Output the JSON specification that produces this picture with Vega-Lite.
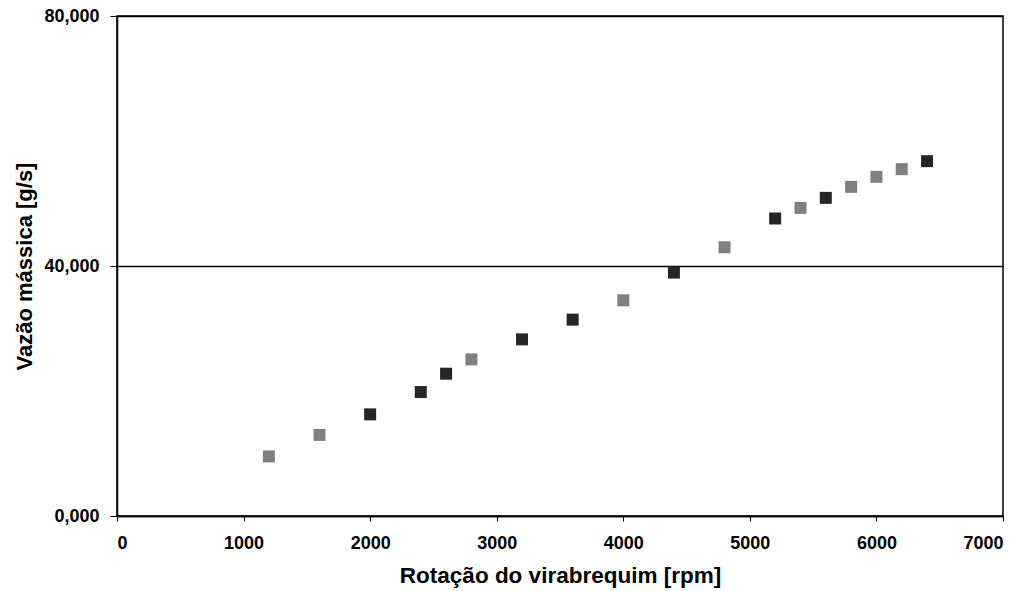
{
  "$schema": "https://vega.github.io/schema/vega-lite/v6.json",
  "autosize": {"type": "none"},
  "width": 886,
  "height": 500,
  "padding": {"left": 117, "top": 16, "right": 24, "bottom": 75},
  "background": "white",
  "config": {
    "view": {"stroke": "black", "strokeWidth": 1.5},
    "font": "Liberation Sans"
  },
  "data": {
    "values": [
      {"rpm": 1200, "vazao": 9.53, "serie": "B"},
      {"rpm": 1600, "vazao": 12.97, "serie": "B"},
      {"rpm": 2000, "vazao": 16.26, "serie": "A"},
      {"rpm": 2400, "vazao": 19.83, "serie": "A"},
      {"rpm": 2600, "vazao": 22.77, "serie": "A"},
      {"rpm": 2800, "vazao": 25.06, "serie": "B"},
      {"rpm": 3200, "vazao": 28.26, "serie": "A"},
      {"rpm": 3600, "vazao": 31.42, "serie": "A"},
      {"rpm": 4000, "vazao": 34.51, "serie": "B"},
      {"rpm": 4400, "vazao": 38.95, "serie": "A"},
      {"rpm": 4800, "vazao": 43.0, "serie": "B"},
      {"rpm": 5200, "vazao": 47.6, "serie": "A"},
      {"rpm": 5400, "vazao": 49.3, "serie": "B"},
      {"rpm": 5600, "vazao": 50.9, "serie": "A"},
      {"rpm": 5800, "vazao": 52.66, "serie": "B"},
      {"rpm": 6000, "vazao": 54.26, "serie": "B"},
      {"rpm": 6200, "vazao": 55.49, "serie": "B"},
      {"rpm": 6400, "vazao": 56.77, "serie": "A"}
    ]
  },
  "mark": {"type": "point", "shape": "square", "filled": true, "size": 144, "opacity": 1},
  "encoding": {
    "x": {
      "field": "rpm",
      "type": "quantitative",
      "scale": {"domain": [0, 7000], "nice": false},
      "axis": {
        "title": "Rotação do virabrequim [rpm]",
        "titleFontSize": 22.5,
        "titleFontWeight": "bold",
        "titleColor": "black",
        "titlePadding": 12,
        "values": [0, 1000, 2000, 3000, 4000, 5000, 6000, 7000],
        "format": "d",
        "labelFontSize": 18,
        "labelFontWeight": "bold",
        "labelColor": "black",
        "labelPadding": 13,
        "tickColor": "black",
        "tickSize": 5,
        "domainColor": "black",
        "domainWidth": 1.5,
        "grid": false
      }
    },
    "y": {
      "field": "vazao",
      "type": "quantitative",
      "scale": {"domain": [0, 80], "nice": false},
      "axis": {
        "title": "Vazão mássica [g/s]",
        "titleFontSize": 22,
        "titleFontWeight": "bold",
        "titleColor": "black",
        "titlePadding": 7,
        "values": [0, 40, 80],
        "labelExpr": "replace(format(datum.value, '.3f'), '.', ',')",
        "labelFontSize": 18,
        "labelFontWeight": "bold",
        "labelColor": "black",
        "labelPadding": 11,
        "tickColor": "black",
        "tickSize": 7,
        "domainColor": "black",
        "domainWidth": 1.5,
        "grid": true,
        "gridColor": "black",
        "gridWidth": 1.5,
        "gridOpacity": 1
      }
    },
    "color": {
      "field": "serie",
      "type": "nominal",
      "scale": {"domain": ["A", "B"], "range": ["#262626", "#808080"]},
      "legend": null
    }
  }
}
